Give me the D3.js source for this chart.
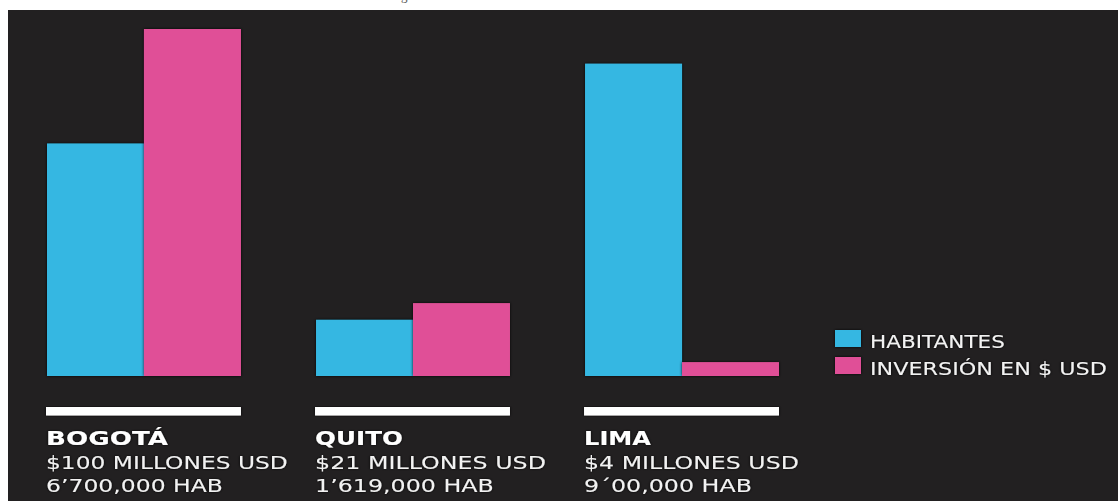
<!DOCTYPE html>
<html>
<head>
<meta charset="utf-8">
<script src="https://cdn.jsdelivr.net/npm/d3@7"></script>
<style>
  html, body { margin: 0; padding: 0; background: #ffffff; }
  svg { display: block; }
</style>
</head>
<body>
<svg id="chart" width="1118" height="501"></svg>
<script>
// ---- data ----
const cities = ["BOGOTÁ", "QUITO", "LIMA"];
const series = ["HABITANTES", "INVERSIÓN EN $ USD"];
// habitantes in hundreds of thousands, inversión in millions USD
const habitantes = [67, 16.19, 90];
const inversion = [100, 21, 4];
const inversionLabels = ["$100 MILLONES USD", "$21 MILLONES USD", "$4 MILLONES USD"];
const habitantesLabels = ["6’700,000 HAB", "1’619,000 HAB", "9´00,000 HAB"];
const colors = ["#36b7e2", "#e05097"];

// ---- layout (text widths matched to the reference's wide geometric typeface) ----
const cityW = [122, 88, 67];
const invW = [242, 231, 215];
const habW = [177, 179, 168];
const legendW = [135, 237];

const W = 1118, H = 501;
const svg = d3.select("#chart");

const defs = svg.append("defs");
const sh = defs.append("filter").attr("id", "shadow")
  .attr("x", "-10%").attr("y", "-10%").attr("width", "120%").attr("height", "120%");
sh.append("feDropShadow").attr("dx", 0).attr("dy", 0)
  .attr("stdDeviation", 1.6).attr("flood-color", "#000").attr("flood-opacity", 0.9);
const tsh = defs.append("filter").attr("id", "tshadow")
  .attr("x", "-5%").attr("y", "-20%").attr("width", "110%").attr("height", "140%");
tsh.append("feDropShadow").attr("dx", 0).attr("dy", 0)
  .attr("stdDeviation", 1.2).attr("flood-color", "#000").attr("flood-opacity", 1);

// horizontally stretch a text to a target width (wide geometric face)
function fitWidth(sel, x, y, widthOf) {
  sel.each(function(d, i) {
    const w = this.getComputedTextLength();
    const sx = widthOf(d, i) / w;
    d3.select(this).attr("x", 0).attr("y", 0)
      .attr("transform", `translate(${x},${y}) scale(${sx},1)`);
  });
}

// background panel
svg.append("rect").attr("x", 8).attr("y", 10).attr("width", W - 8).attr("height", H - 10)
  .attr("fill", "#222021");

// clipped title descender at top (as in the reference)
svg.append("text").attr("x", 401).attr("y", 0).attr("font-family", "Liberation Serif")
  .attr("font-size", 13).attr("fill", "#555").text("g");

const baseline = 376;
const y = d3.scaleLinear().domain([0, 100]).range([baseline, 29]);
const x0 = d3.scaleBand().domain(cities).range([47, 779]).paddingInner(0.279).paddingOuter(0);
const x1 = d3.scaleBand().domain(series).range([0, x0.bandwidth()]).padding(0);

const rows = cities.map((c, i) => ({ city: c, i, values: [habitantes[i], inversion[i]] }));

const groups = svg.append("g").selectAll("g").data(rows).join("g")
  .attr("transform", d => `translate(${x0(d.city)},0)`);

groups.selectAll("rect").data(d => d.values.map((v, j) => ({ s: series[j], v, j })))
  .join("rect")
  .attr("x", d => x1(d.s))
  .attr("y", d => y(d.v))
  .attr("width", x1.bandwidth())
  .attr("height", d => baseline - y(d.v))
  .attr("fill", d => colors[d.j])
  .attr("filter", "url(#shadow)");

// white underline bars
groups.append("rect")
  .attr("x", -1).attr("y", 407)
  .attr("width", x0.bandwidth() + 1).attr("height", 8.5)
  .attr("fill", "#ffffff").attr("filter", "url(#shadow)");

// labels
groups.append("text")
  .attr("font-family", "DejaVu Sans").attr("font-weight", "bold")
  .attr("font-size", 20).attr("fill", "#fff").attr("filter", "url(#tshadow)")
  .text(d => d.city)
  .call(fitWidth, -1, 445, d => cityW[d.i]);

groups.append("text")
  .attr("font-family", "DejaVu Sans")
  .attr("font-size", 17).attr("fill", "#f2f2f2")
  .attr("filter", "url(#tshadow)")
  .text(d => inversionLabels[d.i])
  .call(fitWidth, -1, 469, d => invW[d.i]);

groups.append("text")
  .attr("font-family", "DejaVu Sans")
  .attr("font-size", 17.5).attr("fill", "#f2f2f2")
  .attr("filter", "url(#tshadow)")
  .text(d => habitantesLabels[d.i])
  .call(fitWidth, -1, 492, d => habW[d.i]);

// legend
const legend = svg.append("g").attr("transform", "translate(835,330)");
const li = legend.selectAll("g").data(series).join("g")
  .attr("transform", (d, i) => `translate(0,${i * 27})`);
li.append("rect").attr("width", 26).attr("height", 17)
  .attr("fill", (d, i) => colors[i]).attr("filter", "url(#shadow)");
li.append("text")
  .attr("font-family", "DejaVu Sans")
  .attr("font-size", 17.5).attr("fill", "#f2f2f2")
  .attr("filter", "url(#tshadow)")
  .text(d => d)
  .call(fitWidth, 35, 18, (d, i) => legendW[i]);
</script>
</body>
</html>
